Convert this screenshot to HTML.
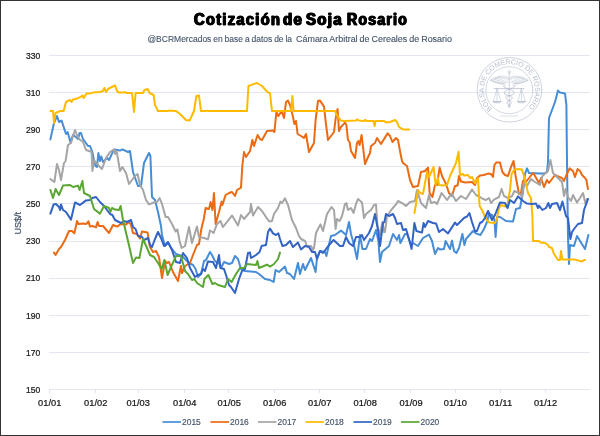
<!DOCTYPE html>
<html lang="es"><head><meta charset="utf-8"><title>Cotización de Soja Rosario</title>
<style>html,body{margin:0;padding:0;background:#fff;}body{width:600px;height:436px;overflow:hidden;}svg{display:block;position:absolute;left:0;top:0;}body{position:relative;}.ttl{position:absolute;left:0;top:0;width:600px;height:32px;font:bold 17.4px/20px "Liberation Sans", Arial, sans-serif;color:#000;}.ttl span{position:absolute;top:9.2px;white-space:nowrap;letter-spacing:1.5px;transform-origin:0 0;-webkit-text-stroke:0.85px #000;text-shadow:0.8px 0 0 #000,-0.8px 0 0 #000;}text{font-family:"Liberation Sans", Arial, sans-serif;}</style>
</head><body>
<svg width="600" height="436" viewBox="0 0 600 436">
<rect x="0" y="0" width="600" height="436" fill="#ffffff"/>
<line x1="49" y1="55.5" x2="590" y2="55.5" stroke="#e2e6ee" stroke-width="1"/>
<text x="26" y="58.7" font-size="8.4" fill="#111111" stroke="#222" stroke-width="0.22" textLength="14.2" lengthAdjust="spacingAndGlyphs">330</text>
<line x1="49" y1="92.5" x2="590" y2="92.5" stroke="#e2e6ee" stroke-width="1"/>
<text x="26" y="95.8" font-size="8.4" fill="#111111" stroke="#222" stroke-width="0.22" textLength="14.2" lengthAdjust="spacingAndGlyphs">310</text>
<line x1="49" y1="129.5" x2="590" y2="129.5" stroke="#e2e6ee" stroke-width="1"/>
<text x="26" y="132.9" font-size="8.4" fill="#111111" stroke="#222" stroke-width="0.22" textLength="14.2" lengthAdjust="spacingAndGlyphs">290</text>
<line x1="49" y1="166.5" x2="590" y2="166.5" stroke="#e2e6ee" stroke-width="1"/>
<text x="26" y="170.0" font-size="8.4" fill="#111111" stroke="#222" stroke-width="0.22" textLength="14.2" lengthAdjust="spacingAndGlyphs">270</text>
<line x1="49" y1="203.5" x2="590" y2="203.5" stroke="#e2e6ee" stroke-width="1"/>
<text x="26" y="207.1" font-size="8.4" fill="#111111" stroke="#222" stroke-width="0.22" textLength="14.2" lengthAdjust="spacingAndGlyphs">250</text>
<line x1="49" y1="241.5" x2="590" y2="241.5" stroke="#e2e6ee" stroke-width="1"/>
<text x="26" y="244.3" font-size="8.4" fill="#111111" stroke="#222" stroke-width="0.22" textLength="14.2" lengthAdjust="spacingAndGlyphs">230</text>
<line x1="49" y1="278.5" x2="590" y2="278.5" stroke="#e2e6ee" stroke-width="1"/>
<text x="26" y="281.4" font-size="8.4" fill="#111111" stroke="#222" stroke-width="0.22" textLength="14.2" lengthAdjust="spacingAndGlyphs">210</text>
<line x1="49" y1="315.5" x2="590" y2="315.5" stroke="#e2e6ee" stroke-width="1"/>
<text x="26" y="318.5" font-size="8.4" fill="#111111" stroke="#222" stroke-width="0.22" textLength="14.2" lengthAdjust="spacingAndGlyphs">190</text>
<line x1="49" y1="352.5" x2="590" y2="352.5" stroke="#e2e6ee" stroke-width="1"/>
<text x="26" y="355.6" font-size="8.4" fill="#111111" stroke="#222" stroke-width="0.22" textLength="14.2" lengthAdjust="spacingAndGlyphs">170</text>
<line x1="49" y1="389.5" x2="590" y2="389.5" stroke="#e2e6ee" stroke-width="1"/>
<text x="26" y="392.7" font-size="8.4" fill="#111111" stroke="#222" stroke-width="0.22" textLength="14.2" lengthAdjust="spacingAndGlyphs">150</text>
<line x1="49.5" y1="389.5" x2="49.5" y2="393" stroke="#e2e6ee" stroke-width="1"/>
<text x="38.1" y="405.6" font-size="8.6" fill="#111111" stroke="#222" stroke-width="0.22" textLength="23.2" lengthAdjust="spacingAndGlyphs">01/01</text>
<line x1="95.5" y1="389.5" x2="95.5" y2="393" stroke="#e2e6ee" stroke-width="1"/>
<text x="84.1" y="405.6" font-size="8.6" fill="#111111" stroke="#222" stroke-width="0.22" textLength="23.2" lengthAdjust="spacingAndGlyphs">01/02</text>
<line x1="138.5" y1="389.5" x2="138.5" y2="393" stroke="#e2e6ee" stroke-width="1"/>
<text x="126.6" y="405.6" font-size="8.6" fill="#111111" stroke="#222" stroke-width="0.22" textLength="23.2" lengthAdjust="spacingAndGlyphs">01/03</text>
<line x1="184.5" y1="389.5" x2="184.5" y2="393" stroke="#e2e6ee" stroke-width="1"/>
<text x="173.1" y="405.6" font-size="8.6" fill="#111111" stroke="#222" stroke-width="0.22" textLength="23.2" lengthAdjust="spacingAndGlyphs">01/04</text>
<line x1="228.5" y1="389.5" x2="228.5" y2="393" stroke="#e2e6ee" stroke-width="1"/>
<text x="217.6" y="405.6" font-size="8.6" fill="#111111" stroke="#222" stroke-width="0.22" textLength="23.2" lengthAdjust="spacingAndGlyphs">01/05</text>
<line x1="274.5" y1="389.5" x2="274.5" y2="393" stroke="#e2e6ee" stroke-width="1"/>
<text x="263.1" y="405.6" font-size="8.6" fill="#111111" stroke="#222" stroke-width="0.22" textLength="23.2" lengthAdjust="spacingAndGlyphs">01/06</text>
<line x1="319.5" y1="389.5" x2="319.5" y2="393" stroke="#e2e6ee" stroke-width="1"/>
<text x="308.1" y="405.6" font-size="8.6" fill="#111111" stroke="#222" stroke-width="0.22" textLength="23.2" lengthAdjust="spacingAndGlyphs">01/07</text>
<line x1="364.5" y1="389.5" x2="364.5" y2="393" stroke="#e2e6ee" stroke-width="1"/>
<text x="353.6" y="405.6" font-size="8.6" fill="#111111" stroke="#222" stroke-width="0.22" textLength="23.2" lengthAdjust="spacingAndGlyphs">01/08</text>
<line x1="410.5" y1="389.5" x2="410.5" y2="393" stroke="#e2e6ee" stroke-width="1"/>
<text x="399.4" y="405.6" font-size="8.6" fill="#111111" stroke="#222" stroke-width="0.22" textLength="23.2" lengthAdjust="spacingAndGlyphs">01/09</text>
<line x1="455.5" y1="389.5" x2="455.5" y2="393" stroke="#e2e6ee" stroke-width="1"/>
<text x="443.8" y="405.6" font-size="8.6" fill="#111111" stroke="#222" stroke-width="0.22" textLength="23.2" lengthAdjust="spacingAndGlyphs">01/10</text>
<line x1="500.5" y1="389.5" x2="500.5" y2="393" stroke="#e2e6ee" stroke-width="1"/>
<text x="489.1" y="405.6" font-size="8.6" fill="#111111" stroke="#222" stroke-width="0.22" textLength="23.2" lengthAdjust="spacingAndGlyphs">01/11</text>
<line x1="545.5" y1="389.5" x2="545.5" y2="393" stroke="#e2e6ee" stroke-width="1"/>
<text x="533.9" y="405.6" font-size="8.6" fill="#111111" stroke="#222" stroke-width="0.22" textLength="23.2" lengthAdjust="spacingAndGlyphs">01/12</text>
<g id="sello" fill="none" stroke="#b7bfce" stroke-width="0.7" stroke-linecap="round" stroke-linejoin="round">
<circle cx="509.5" cy="89.8" r="32.3"/>
<circle cx="509.3" cy="90.2" r="23.5" stroke-width="0.6"/>
<path id="selloArc" d="M 492.3 108.9 A 25.7 25.7 0 1 1 527.4 108.3" stroke="none"/>
<text font-size="6.9" fill="#b6bdcc" stroke="none" letter-spacing="0"><textPath href="#selloArc" startOffset="0" textLength="121" lengthAdjust="spacingAndGlyphs">BOLSA DE COMERCIO DE ROSARIO</textPath></text>
<!-- staff -->
<line x1="509.2" y1="73" x2="509.2" y2="106.8"/>
<circle cx="509.2" cy="72" r="1.2" stroke-width="0.6"/>
<!-- wings -->
<g stroke-width="0.6">
<path d="M508.6 78 C505 75.4 498.4 74.8 490.4 80.3 L492.8 81.4 L495.4 82.4 L498.2 83.2 L501 83.8 L503.8 84"/>
<path d="M490.4 80.3 C494 80.2 497 79.4 499.6 77.6 M492.8 81.4 C496.2 81.4 499.2 80.6 502 78.8 M495.4 82.4 C498.6 82.4 501.6 81.6 504.2 79.8 M498.2 83.2 C501 83.2 503.8 82.4 506.2 80.8 M501 83.8 C503.4 83.8 505.6 83.2 507.8 81.8 M508.6 79.6 C505 77.2 499.6 76.8 494.4 78.8"/>
</g>
<g transform="translate(1018.4,0) scale(-1,1)" stroke-width="0.6">
<path d="M508.6 78 C505 75.4 498.4 74.8 490.4 80.3 L492.8 81.4 L495.4 82.4 L498.2 83.2 L501 83.8 L503.8 84"/>
<path d="M490.4 80.3 C494 80.2 497 79.4 499.6 77.6 M492.8 81.4 C496.2 81.4 499.2 80.6 502 78.8 M495.4 82.4 C498.6 82.4 501.6 81.6 504.2 79.8 M498.2 83.2 C501 83.2 503.8 82.4 506.2 80.8 M501 83.8 C503.4 83.8 505.6 83.2 507.8 81.8 M508.6 79.6 C505 77.2 499.6 76.8 494.4 78.8"/>
</g>
<!-- snakes -->
<path d="M505.4 85.4 C503.6 84 502.6 86.6 505 87.6 C507 88.4 514.6 90.4 514.2 93 C513.8 95.4 509.2 95.6 509.2 95.6 C505 96.9 505.2 99.2 509.2 100.6 C512.4 101.8 512.2 103.6 509.2 104.8 C507.6 105.6 507.8 106.6 509.2 107.4" stroke-width="0.8"/>
<path d="M513 85.4 C514.8 84 515.8 86.6 513.4 87.6 C511.4 88.4 503.8 90.4 504.2 93 C504.6 95.4 509.2 95.6 509.2 95.6 C513.4 96.9 513.2 99.2 509.2 100.6 C506 101.8 506.2 103.6 509.2 104.8 C510.8 105.6 510.6 106.6 509.2 107.4" stroke-width="0.8"/>
<!-- scales -->
<path d="M494.2 88.6 L524 88.6" stroke-width="0.8"/>
<path d="M497 88.8 L493.4 101.2 M497 88.8 L500.8 101.2 M497 88.8 L497 101.2" stroke-width="0.55"/>
<path d="M493 101.5 L501.1 101.5 M493.2 101.8 C494.4 103.4 499.8 103.4 500.9 101.8" stroke-width="0.9"/>
<path d="M521.4 88.8 L517.8 101.2 M521.4 88.8 L525.2 101.2 M521.4 88.8 L521.4 101.2" stroke-width="0.55"/>
<path d="M517.4 101.5 L525.5 101.5 M517.6 101.8 C518.8 103.4 524.2 103.4 525.3 101.8" stroke-width="0.9"/>
<!-- base lines -->
<path d="M500.4 116 L517.8 116" stroke-width="0.5"/>
</g>

<polyline points="50.4,139.4 54.0,123.0 57.0,116.0 59.0,122.0 61.6,120.6 66.0,134.0 67.6,132.0 70.4,142.0 73.0,135.0 76.0,137.0 78.0,139.0 79.6,133.0 81.0,133.0 83.0,139.0 88.0,146.0 90.0,146.0 92.4,152.0 94.0,161.0 95.5,166.0 97.0,167.0 98.4,153.0 100.0,161.0 101.3,156.5 103.0,162.0 107.0,158.0 109.0,160.0 114.0,149.4 120.0,150.6 122.4,149.4 128.0,152.0 130.0,151.0 133.0,172.0 138.0,186.0 141.0,186.0 144.0,163.0 149.0,153.0 150.4,156.0 152.0,197.0 155.0,200.0 158.0,212.0 161.0,226.0 162.0,235.0 165.0,246.0 168.0,243.0 172.0,249.0 176.0,254.0 182.0,256.0 189.0,263.0 193.0,265.0 195.6,269.0 198.0,277.0 201.0,274.0 204.0,261.0 206.0,260.0 210.0,252.0 212.0,255.0 214.4,260.0 216.0,262.0 219.0,263.0 221.0,268.0 224.0,262.0 229.0,264.0 232.0,263.0 235.0,256.0 238.0,259.0 241.0,269.0 245.0,271.0 256.0,272.0 259.0,274.0 265.0,279.0 270.0,280.0 273.6,282.0 275.6,270.0 279.0,272.0 285.0,266.6 287.0,273.0 290.0,274.0 294.0,279.0 298.0,263.0 300.0,274.0 303.0,264.0 305.0,270.0 311.0,258.0 315.6,272.0 317.0,258.0 320.0,251.0 325.0,252.0 326.4,256.0 331.0,236.0 335.0,235.0 341.0,230.6 346.0,235.0 349.0,222.0 351.0,234.0 354.0,245.0 357.0,259.0 360.0,235.0 362.4,249.0 366.0,249.0 370.0,239.0 372.0,241.0 376.0,230.0 378.4,241.0 380.0,262.0 382.0,252.0 389.0,246.0 393.0,234.0 397.0,240.0 399.0,235.0 400.4,243.0 405.0,234.0 407.0,234.0 411.0,245.0 413.0,243.0 418.0,246.0 423.0,238.0 429.0,234.6 432.0,241.0 435.0,254.0 438.0,248.0 440.0,249.4 444.0,249.0 445.6,241.0 450.0,249.0 452.0,240.6 454.0,251.0 456.4,253.0 459.0,248.0 462.4,234.0 464.4,245.0 466.0,239.0 473.0,231.0 476.0,233.4 480.4,235.0 484.0,229.0 487.0,222.0 489.0,214.0 492.0,215.0 494.4,220.0 495.6,237.0 497.0,217.0 500.0,217.0 506.0,221.0 513.0,221.6 516.0,209.0 520.0,208.0 523.0,192.0 525.0,174.0 527.0,168.4 529.0,173.0 540.0,173.6 544.0,173.6 547.0,172.0 548.0,162.0 549.0,118.0 555.0,102.0 558.0,90.6 560.0,92.6 565.0,93.4 566.4,105.0 567.0,162.0 568.0,237.0 569.0,264.0 570.0,245.0 574.0,246.0 577.0,236.0 585.0,249.0 588.4,235.0" fill="none" stroke="#478dd6" stroke-width="2.0" stroke-linejoin="round" stroke-linecap="round"/>
<polyline points="54.0,252.6 55.6,255.0 59.0,249.0 61.0,247.0 65.0,240.0 69.0,231.0 72.0,231.0 74.4,233.4 77.0,221.0 78.4,224.0 83.0,223.4 86.4,224.0 88.4,221.4 90.0,226.6 92.4,226.0 96.0,227.4 97.6,222.0 99.0,226.0 103.0,226.0 109.0,233.0 113.0,225.0 117.0,226.6 120.0,224.6 123.0,224.0 126.0,224.6 129.0,222.0 131.0,225.0 133.0,233.0 137.0,234.0 138.4,236.0 140.0,238.6 142.0,231.4 147.6,232.6 150.0,247.0 153.0,252.0 156.0,251.0 159.0,257.0 162.0,278.0 165.0,261.0 167.0,263.0 169.0,262.0 173.0,272.0 178.0,281.0 181.0,266.0 182.0,273.0 185.0,266.0 190.0,263.0 193.0,255.0 197.0,245.0 199.0,244.0 201.0,231.0 202.0,226.0 203.6,220.0 205.6,208.0 209.0,209.0 210.6,202.0 212.4,210.0 214.0,193.0 215.6,224.0 219.0,212.0 221.6,201.6 222.4,205.0 225.6,195.0 229.0,193.0 232.0,192.0 235.0,196.0 237.0,190.0 241.0,187.6 242.4,165.0 244.0,152.0 246.0,157.0 250.0,151.0 252.4,140.0 254.0,146.0 257.6,135.0 260.0,139.0 262.0,140.0 267.0,131.0 273.0,130.6 274.4,132.0 276.4,112.0 278.4,116.0 281.6,111.0 284.0,118.0 286.0,102.0 288.0,100.6 290.0,105.0 293.0,117.0 294.4,124.0 296.0,121.0 297.6,134.0 301.0,136.0 304.0,138.0 306.0,134.0 309.0,152.0 314.0,143.0 315.6,120.0 318.0,101.0 320.0,100.6 324.0,106.6 325.6,121.0 328.0,140.0 334.0,132.0 335.6,119.0 337.6,109.0 339.0,131.0 341.0,127.0 345.0,122.6 346.4,125.0 348.0,140.0 349.6,142.0 351.0,151.0 355.0,158.0 357.0,143.0 358.4,141.0 359.6,145.0 361.6,135.0 365.0,164.0 367.6,158.0 370.0,153.0 371.0,146.0 375.0,143.0 377.0,138.0 381.0,144.0 387.6,133.4 390.0,136.0 392.4,142.0 396.0,138.0 398.0,140.0 400.0,151.0 402.0,161.0 403.0,163.0 407.0,166.0 410.0,180.0 413.0,187.0 418.0,186.0 421.0,172.0 425.0,171.0 428.0,167.6 429.6,193.0 432.4,197.0 435.0,185.0 437.0,185.0 439.6,167.6 442.0,176.0 446.0,184.0 449.0,193.0 452.0,196.0 455.0,186.0 457.6,185.6 459.0,176.0 461.0,181.6 465.0,182.4 472.0,182.0 475.0,185.0 477.0,178.0 480.0,175.6 484.0,175.0 488.0,173.6 491.0,174.0 493.0,177.0 494.4,165.0 496.4,162.4 500.0,162.4 502.4,172.0 505.0,175.0 508.0,176.0 511.0,167.0 513.6,161.0 515.6,176.0 519.0,194.0 521.0,193.0 523.0,181.0 525.0,183.0 529.0,178.0 533.0,173.0 535.0,176.0 539.0,183.0 541.0,178.0 544.0,187.0 547.0,180.0 549.0,183.0 555.0,175.0 557.0,176.0 562.0,178.0 564.0,181.0 566.0,176.0 569.6,168.4 573.0,171.0 575.0,177.0 577.6,169.0 580.0,171.0 582.0,175.0 585.0,178.0 586.4,180.0 588.0,189.0" fill="none" stroke="#eb6b14" stroke-width="2.0" stroke-linejoin="round" stroke-linecap="round"/>
<polyline points="50.4,179.0 53.0,181.0 54.4,182.0 57.0,164.0 59.0,170.0 61.0,180.0 64.0,163.0 65.6,161.0 68.0,145.0 71.0,143.0 75.0,130.0 77.0,135.0 79.0,139.0 83.0,142.0 86.0,150.0 89.0,151.0 91.6,152.0 92.4,171.0 94.0,160.0 98.0,165.0 102.0,169.0 106.0,158.0 110.0,152.0 114.0,149.5 115.0,154.0 116.4,151.0 117.0,153.0 120.0,171.0 122.4,167.0 126.0,173.0 129.0,184.0 135.0,176.0 137.6,174.0 140.0,185.0 143.0,190.0 146.0,200.0 149.0,204.4 155.0,202.0 157.0,202.0 159.6,198.0 162.0,204.0 165.6,217.0 168.0,217.0 172.0,224.0 175.6,231.5 177.4,229.5 179.6,241.0 181.6,248.0 185.0,246.0 189.0,227.0 192.0,243.0 197.0,226.6 199.0,237.0 204.0,238.0 208.0,239.4 210.0,230.5 212.4,232.0 213.6,233.0 217.0,224.0 220.4,221.0 223.0,227.0 232.0,215.6 238.0,225.5 241.0,215.0 244.0,219.0 250.0,212.0 251.0,204.0 253.0,215.6 258.0,207.0 262.0,211.0 264.0,214.0 268.0,220.0 270.0,221.6 272.0,221.0 274.0,214.0 278.0,208.0 280.4,201.6 282.0,203.0 285.0,198.4 288.0,205.0 292.0,220.0 296.0,228.0 299.0,236.0 301.0,239.0 305.0,241.0 307.0,246.0 311.0,246.0 313.0,250.0 314.0,248.0 316.0,233.0 317.0,231.0 320.4,224.4 323.0,231.0 327.0,214.0 331.6,207.0 334.0,210.0 335.6,229.0 337.0,219.0 339.6,221.0 342.0,216.0 345.0,204.0 346.4,203.0 348.0,210.0 351.0,208.0 353.6,213.0 356.0,204.0 358.0,199.0 362.0,202.4 364.0,218.0 366.0,214.0 371.0,210.0 374.0,205.0 376.0,204.4 377.5,226.0 380.0,235.0 382.4,222.0 384.0,232.0 385.0,232.0 387.0,216.0 392.0,209.0 396.0,204.4 398.0,201.0 403.0,203.6 406.0,206.0 410.0,202.0 415.0,201.0 417.0,190.0 421.0,203.0 426.0,208.0 429.0,195.0 431.0,203.0 435.0,202.0 437.0,204.0 441.6,193.0 447.0,200.0 451.6,193.6 456.0,201.0 461.0,196.0 466.0,199.0 472.0,189.6 476.0,195.0 480.0,197.0 483.0,199.0 486.0,200.0 489.0,198.0 491.0,203.0 494.0,199.6 499.0,197.0 501.6,189.0 504.0,196.0 508.0,198.0 512.0,196.0 514.4,191.0 519.0,193.0 522.0,197.0 524.0,182.0 527.0,186.0 531.0,179.0 535.0,182.0 540.0,185.0 542.4,176.0 548.0,171.0 550.4,160.0 553.0,173.0 559.0,179.0 562.0,182.0 564.0,196.0 565.6,189.0 568.0,197.0 571.0,201.0 573.0,195.0 577.0,202.4 580.0,198.0 583.0,193.0 585.6,204.0 587.0,199.0" fill="none" stroke="#a5a5a5" stroke-width="2.0" stroke-linejoin="round" stroke-linecap="round"/>
<polyline points="50.4,111.0 53.0,111.0 54.0,123.0 55.6,113.0 60.0,111.1 63.6,111.0 66.0,102.0 70.0,100.0 71.6,102.0 73.0,99.4 77.0,98.6 81.0,96.6 82.4,95.4 83.6,98.0 86.4,93.4 90.0,93.4 93.0,92.6 100.0,92.0 103.0,91.0 104.4,88.0 106.0,92.0 108.0,89.0 115.0,85.4 117.0,91.0 119.0,92.6 123.0,92.6 125.0,92.0 126.4,93.0 132.0,93.0 134.0,112.0 135.6,93.0 143.0,93.0 144.4,90.0 147.6,89.0 149.6,93.0 153.6,95.0 155.0,105.0 158.0,111.1 167.0,111.1 169.0,110.6 176.0,111.0 180.0,114.0 186.0,120.0 189.6,120.6 194.0,111.0 196.4,96.0 199.0,95.6 201.0,111.1 206.0,111.1 207.0,110.6 209.0,111.1 247.0,111.1 248.4,86.0 252.0,84.6 257.0,83.0 262.0,86.0 268.0,92.6 270.0,93.0 272.0,111.1 291.0,111.1 292.4,96.0 293.6,111.1 335.0,111.1 338.0,117.0 341.0,120.6 344.0,121.0 356.0,120.6 357.0,119.4 359.0,120.6 364.0,121.0 365.0,120.0 367.0,121.0 373.6,121.0 374.6,126.0 375.6,121.0 384.0,121.0 386.0,122.4 390.0,122.0 395.0,120.0 397.0,122.0 399.0,127.0 403.0,129.4 409.0,129.6" fill="none" stroke="#ffba00" stroke-width="2.0" stroke-linejoin="round" stroke-linecap="round"/>
<polyline points="414.4,213.0 416.0,204.0 418.0,190.0 420.0,193.0 423.0,194.0 427.0,172.0 429.0,177.0 433.6,167.0 435.6,185.0 438.0,178.0 439.0,185.0 443.0,185.6 447.0,185.0 450.0,176.0 456.0,163.0 458.6,151.6 460.0,175.0 463.0,174.0 464.0,175.6 468.0,175.0 470.0,178.0 472.0,177.0 475.0,183.0 478.0,178.0 479.6,206.0 482.0,210.0 486.0,219.0 489.0,222.4 495.0,223.0 497.0,218.0 499.0,208.0 501.0,205.0 504.0,206.0 507.0,207.0 510.0,190.0 511.6,174.0 514.0,170.0 518.0,169.0 522.0,169.6 524.0,176.0 528.0,193.0 531.0,198.0 532.4,216.0 533.0,241.0 539.0,241.0 541.0,242.6 545.0,243.0 548.0,245.0 549.0,247.0 552.0,248.0 554.0,254.0 558.0,260.0 560.0,260.0 561.0,251.0 562.4,259.4 574.0,259.4 580.0,261.0 582.0,261.4 584.0,260.0 585.0,260.0" fill="none" stroke="#ffba00" stroke-width="2.0" stroke-linejoin="round" stroke-linecap="round"/>
<polyline points="50.4,213.6 53.6,204.4 56.0,204.0 59.0,207.0 60.0,210.0 61.0,204.4 63.0,210.0 66.0,212.0 71.0,219.6 75.0,202.4 80.0,205.0 86.0,200.4 90.0,200.0 92.4,198.0 96.0,197.0 100.0,202.0 104.0,206.0 110.0,214.0 112.4,215.0 115.0,220.0 121.0,223.0 124.0,221.0 127.0,222.0 131.0,220.0 133.0,227.0 135.6,229.0 138.0,236.0 142.0,237.0 144.0,240.0 148.0,238.0 150.0,245.0 152.0,247.0 155.0,239.0 158.0,232.0 161.0,238.0 164.0,246.0 168.0,242.0 172.0,250.0 176.0,262.0 180.0,263.0 183.0,253.0 187.0,258.0 190.0,268.0 195.0,277.0 198.0,275.0 201.0,274.0 203.0,269.0 205.0,271.0 208.0,261.4 213.0,262.0 216.0,268.0 219.0,255.0 220.4,268.0 224.0,269.0 226.0,275.0 229.0,285.0 231.0,287.0 235.0,293.0 239.0,279.0 242.0,271.0 245.0,269.0 248.0,253.0 250.0,252.6 251.0,258.0 256.0,255.0 259.6,252.0 261.6,246.0 266.0,245.0 268.0,232.0 270.0,228.6 273.0,233.4 276.0,235.0 278.4,233.4 280.0,239.0 282.4,246.0 286.0,245.0 290.0,241.0 293.0,247.0 298.0,242.6 301.0,249.4 305.0,246.0 309.0,247.0 312.0,252.0 315.0,252.0 317.0,259.0 320.0,251.0 323.0,253.0 329.0,245.0 333.6,240.0 340.0,246.0 343.0,246.0 346.0,237.0 349.0,243.0 353.0,246.0 356.0,237.0 360.0,237.0 362.0,235.0 364.0,240.0 369.0,233.0 372.0,226.0 375.0,214.0 378.0,230.0 380.0,246.0 383.0,223.0 384.4,222.0 386.0,214.0 389.0,216.0 393.0,214.0 395.0,218.0 397.0,224.0 401.0,223.0 403.0,230.0 406.0,229.0 409.0,239.0 411.6,249.0 414.4,223.0 416.4,231.0 422.0,232.6 423.6,223.0 425.0,227.0 428.0,221.0 433.0,223.0 436.0,223.4 439.0,232.0 443.0,229.0 448.0,233.4 455.0,222.6 457.0,225.0 464.0,218.0 467.0,216.5 469.4,213.0 472.0,222.0 475.0,231.0 477.0,231.0 480.0,223.0 482.0,222.0 485.0,218.0 488.0,211.0 492.0,220.0 495.0,215.0 500.0,202.4 505.0,203.0 507.6,208.0 510.0,200.0 514.0,203.0 518.0,196.4 523.0,201.0 527.0,203.6 532.0,204.0 536.0,203.6 538.0,208.0 539.0,205.6 542.4,210.0 546.0,208.0 548.4,203.0 550.0,208.0 552.0,204.0 557.0,203.0 560.0,210.0 562.4,201.6 566.0,216.0 568.0,218.0 570.4,239.0 572.0,232.0 574.0,229.0 578.0,224.0 582.0,223.0 584.0,210.0 588.0,199.0" fill="none" stroke="#3263c5" stroke-width="2.0" stroke-linejoin="round" stroke-linecap="round"/>
<polyline points="50.4,190.0 53.0,198.0 55.6,189.0 59.0,195.0 63.0,185.6 70.0,185.0 73.0,187.0 78.0,185.6 79.6,190.0 82.4,181.0 84.0,193.0 90.0,196.0 94.0,209.0 100.0,213.6 104.0,206.0 109.0,208.0 110.4,212.0 112.0,208.0 115.0,209.6 119.0,210.0 120.6,206.0 123.0,220.0 128.0,241.0 133.0,263.0 136.0,257.4 139.4,258.0 143.0,239.0 147.0,248.0 150.0,255.0 154.0,257.0 158.0,263.0 161.6,269.0 164.4,260.0 167.6,275.0 171.0,267.0 176.0,256.0 181.0,256.0 185.0,271.0 188.0,274.0 192.0,280.0 194.4,279.0 197.0,283.0 203.0,287.0 204.4,279.0 208.4,275.0 212.4,284.0 215.0,283.0 218.0,285.0 225.0,287.0 228.0,279.0 231.6,282.0 236.0,274.0 240.0,268.0 244.0,268.0 247.0,264.0 256.0,265.0 257.4,261.0 259.0,268.0 264.0,266.0 267.0,264.6 270.0,266.6 274.0,264.0 278.0,259.0 280.0,252.6" fill="none" stroke="#5ca634" stroke-width="2.0" stroke-linejoin="round" stroke-linecap="round"/>
<text y="42" font-size="8.9" word-spacing="-0.5" fill="#44546a" stroke="#44546a" stroke-width="0.12"><tspan x="147.5" textLength="144.6" lengthAdjust="spacingAndGlyphs">@BCRMercados en base a datos de la</tspan> <tspan x="296" textLength="156" lengthAdjust="spacingAndGlyphs">Cámara Arbitral de Cereales de Rosario</tspan></text>
<text transform="translate(20.7,234.6) rotate(-90)" font-size="8.6" fill="#44546a" stroke="#44546a" stroke-width="0.25" textLength="22.7" lengthAdjust="spacingAndGlyphs">US$/t</text>
<line x1="162.5" y1="422" x2="181.0" y2="422" stroke="#478dd6" stroke-width="1.7"/>
<text x="182.0" y="425.1" font-size="8.5" fill="#44546a" stroke="#44546a" stroke-width="0.15" textLength="18.8" lengthAdjust="spacingAndGlyphs">2015</text>
<line x1="210.5" y1="422" x2="229.0" y2="422" stroke="#eb6b14" stroke-width="1.7"/>
<text x="230.0" y="425.1" font-size="8.5" fill="#44546a" stroke="#44546a" stroke-width="0.15" textLength="18.8" lengthAdjust="spacingAndGlyphs">2016</text>
<line x1="258.0" y1="422" x2="276.5" y2="422" stroke="#a5a5a5" stroke-width="1.7"/>
<text x="277.5" y="425.1" font-size="8.5" fill="#44546a" stroke="#44546a" stroke-width="0.15" textLength="18.8" lengthAdjust="spacingAndGlyphs">2017</text>
<line x1="305.5" y1="422" x2="324.0" y2="422" stroke="#ffba00" stroke-width="1.7"/>
<text x="325.0" y="425.1" font-size="8.5" fill="#44546a" stroke="#44546a" stroke-width="0.15" textLength="18.8" lengthAdjust="spacingAndGlyphs">2018</text>
<line x1="353.5" y1="422" x2="372.0" y2="422" stroke="#3263c5" stroke-width="1.7"/>
<text x="373.0" y="425.1" font-size="8.5" fill="#44546a" stroke="#44546a" stroke-width="0.15" textLength="18.8" lengthAdjust="spacingAndGlyphs">2019</text>
<line x1="401.0" y1="422" x2="419.5" y2="422" stroke="#5ca634" stroke-width="1.7"/>
<text x="420.5" y="425.1" font-size="8.5" fill="#44546a" stroke="#44546a" stroke-width="0.15" textLength="18.8" lengthAdjust="spacingAndGlyphs">2020</text>
<rect x="0.5" y="0.5" width="599" height="435" fill="none" stroke="#333333" stroke-width="1"/>
</svg>
<div class="ttl"><span style="left:193.50px;transform:scaleX(0.8471)">Cotización</span> <span style="left:282.70px;transform:scaleX(0.8673)">de</span> <span style="left:306.24px;transform:scaleX(0.8628)">Soja</span> <span style="left:346.50px;transform:scaleX(0.8108)">Rosario</span></div>
</body></html>
